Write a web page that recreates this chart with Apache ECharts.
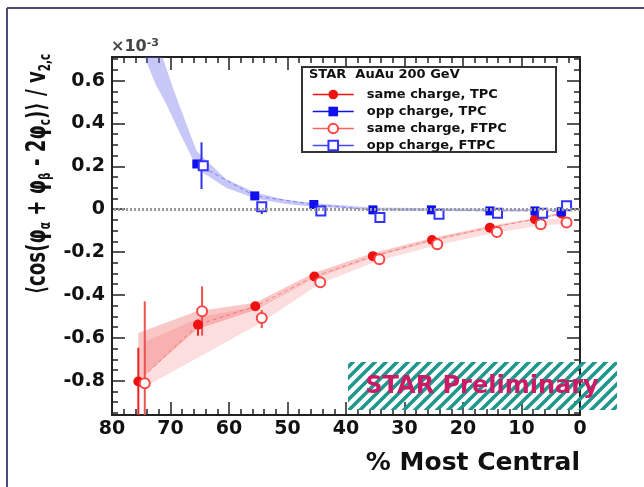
<!DOCTYPE html>
<html><head><meta charset="utf-8">
<script src="https://cdn.jsdelivr.net/npm/echarts@6/dist/echarts.min.js"></script>
<style>html,body{margin:0;padding:0;background:#fff}#c{width:644px;height:487px}</style>
</head><body><div id="c"></div>
<script>
const FONT = '"DejaVu Sans", sans-serif';
// x = % most central, y = correlator (x10^-3)
const sameTPC = [[75.5,-0.804],[65.3,-0.539],[55.5,-0.453],[45.4,-0.314],[35.4,-0.219],[25.3,-0.144],[15.4,-0.086],[7.7,-0.047],[3.2,-0.02]];
const oppTPC = [[65.5,0.211],[55.6,0.062],[45.5,0.022],[35.4,-0.003],[25.4,-0.003],[15.4,-0.008],[7.7,-0.008],[3.2,-0.012]];
const sameFTPC = [[74.4,-0.812],[64.6,-0.476],[54.4,-0.508],[44.4,-0.341],[34.3,-0.234],[24.4,-0.163],[14.2,-0.106],[6.7,-0.07],[2.3,-0.062]];
const oppFTPC = [[64.4,0.203],[54.4,0.011],[44.3,-0.008],[34.2,-0.039],[24.1,-0.023],[14.1,-0.019],[6.4,-0.019],[2.3,0.016]];
// statistical error bars [x, low, high]
const sameTPCErr = [[75.5,-1.1,-0.646],[65.3,-0.59,-0.515]];
const sameFTPCErr = [[74.4,-1.1,-0.43],[64.6,-0.59,-0.36],[54.4,-0.555,-0.47]];
const oppFTPCErr = [[64.7,0.094,0.312],[54.4,-0.023,0.03]];
// systematic bands: upper and lower edges
const sameTPCBandHi = [[75.5,-0.578],[65.5,-0.476],[55.5,-0.436],[45.5,-0.298],[35.5,-0.205],[25.5,-0.135],[15.5,-0.078],[7.7,-0.042],[3.2,-0.015]];
const sameTPCBandLo = [[75.5,-0.80],[65.5,-0.56],[55.5,-0.47],[45.5,-0.325],[35.5,-0.225],[25.5,-0.15],[15.5,-0.09],[7.7,-0.052],[3.2,-0.025]];
const sameFTPCBandHi = [[74.5,-0.62],[64.5,-0.50],[54.5,-0.45],[44.5,-0.31],[34.5,-0.215],[24.5,-0.14],[14.5,-0.085],[6.7,-0.05],[2.3,-0.04]];
const sameFTPCBandLo = [[74.5,-0.83],[64.5,-0.68],[54.5,-0.53],[44.5,-0.348],[34.5,-0.24],[24.5,-0.168],[14.5,-0.11],[6.7,-0.076],[2.3,-0.068]];
const oppBandHi = [[74.5,1.05],[71.5,0.72],[69.5,0.56],[68,0.45],[66.5,0.34],[65.5,0.27],[60.5,0.14],[55.5,0.078],[50.5,0.045],[45.5,0.028],[35.5,0.008],[25.5,0.004],[15.5,0.002],[7.7,0.001],[2.3,0.0]];
const oppBandLo = [[76,0.82],[74.6,0.72],[72.5,0.58],[70.7,0.49],[68.5,0.36],[66.5,0.25],[65.5,0.19],[60.5,0.10],[55.5,0.05],[50.5,0.025],[45.5,0.012],[35.5,-0.004],[25.5,-0.008],[15.5,-0.01],[7.7,-0.01],[2.3,-0.008]];
// axis ticks
const xRange = [0, 80];
const yRange = [-0.96, 0.71];
const yMajor = [-0.8,-0.6,-0.4,-0.2,0,0.2,0.4,0.6];
const yMinor = [];
for (let v = -95; v <= 70; v += 5) { if (v % 20 !== 0) yMinor.push(v / 100); }
const names = ['same charge, TPC','opp charge, TPC','same charge, FTPC','opp charge, FTPC'];

function bandSeries(hi, lo, color, z) {
  return { type:'custom', clip:true, silent:true, z:z, data:[hi[0]],
    renderItem: function(params, api) {
      const pts = hi.concat(lo.slice().reverse()).map(function(p){ return api.coord(p); });
      return { type:'polygon', shape:{points:pts}, style:{fill:color} };
    } };
}
function errSeries(data, color, width, z) {
  return { type:'custom', clip:true, silent:true, z:z, data:data, encode:{x:0, y:[1,2]},
    renderItem: function(params, api) {
      const a = api.coord([api.value(0), api.value(1)]);
      const b = api.coord([api.value(0), api.value(2)]);
      return { type:'line', shape:{x1:a[0], y1:a[1], x2:b[0], y2:b[1]}, style:{stroke:color, lineWidth:width} };
    } };
}

const pc = document.createElement('canvas');
pc.width = 11; pc.height = 11;
const g = pc.getContext('2d');
g.strokeStyle = '#1f978c'; g.lineWidth = 3.6;
g.beginPath();
g.moveTo(-2,13); g.lineTo(13,-2);
g.moveTo(-2,2); g.lineTo(2,-2);
g.moveTo(9,13); g.lineTo(13,9);
g.stroke();

const axisLineStyle = {color:'#222', width:2};
function xAx(pos, labels) {
  return { type:'value', position:pos, min:xRange[0], max:xRange[1], interval:10, inverse:true,
    axisLine:{show:true, onZero:false, lineStyle:axisLineStyle},
    axisTick:{show:true, inside:true, length:13, lineStyle:{color:'#222', width:1.5}},
    minorTick:{show:true, splitNumber:5, length:6, lineStyle:{color:'#222', width:1.5}},
    splitLine:{show:false}, minorSplitLine:{show:false},
    axisLabel:{show:labels, margin:5, fontFamily:FONT, fontWeight:'bold', fontSize:19, color:'#111'} };
}
function yAx(pos, major, labels) {
  return { type:'value', position:pos, min:yRange[0], max:yRange[1],
    axisLine:{show:major, onZero:false, lineStyle:axisLineStyle},
    axisTick:{show:true, inside:true, length: major ? 13 : 6, customValues: major ? yMajor : yMinor, lineStyle:{color:'#222', width:1.5}},
    splitLine:{show:false},
    axisLabel:{show:labels, customValues: yMajor, margin:7, fontFamily:FONT, fontWeight:'bold', fontSize:19, color:'#111',
      formatter: function(v){ return v === 0 ? '0' : (+v).toFixed(1); } } };
}

const chart = echarts.init(document.getElementById('c'), null, {renderer:'canvas'});
chart.setOption({
  animation:false,
  backgroundColor:'#ffffff',
  grid:{left:112, right:64, top:57, bottom:72, containLabel:false},
  xAxis:[xAx('bottom', true), xAx('top', false)],
  yAxis:[yAx('left', true, true), yAx('left', false, false), yAx('right', true, false), yAx('right', false, false)],
  legend:{
    data:[
      {name:names[0], lineStyle:{color:'#ee1111'}},
      {name:names[1], lineStyle:{color:'#1010ee'}},
      {name:names[2], lineStyle:{color:'#ff6060'}},
      {name:names[3], lineStyle:{color:'#4848f0'}}
    ],
    orient:'vertical', left:312, top:88, padding:0, itemWidth:41, itemHeight:12, itemGap:4,
    selectedMode:false,
    lineStyle:{type:'solid', opacity:1, width:1.5},
    textStyle:{fontFamily:FONT, fontWeight:'bold', fontSize:13, color:'#111', lineHeight:12, padding:[0,0,0,8]}
  },
  series:[
    bandSeries(oppBandHi, oppBandLo, 'rgba(100,100,235,0.36)', 1),
    bandSeries(sameFTPCBandHi, sameFTPCBandLo, 'rgba(240,70,70,0.18)', 1),
    bandSeries(sameTPCBandHi, sameTPCBandLo, 'rgba(240,70,70,0.30)', 1),
    errSeries(sameTPCErr, '#ee2222', 2, 2),
    errSeries(sameFTPCErr, '#f05050', 2, 2),
    errSeries(oppFTPCErr, '#3030ee', 2, 2),
    { name:names[0], type:'line', z:3, data:sameTPC, symbol:'circle', symbolSize:10,
      itemStyle:{color:'#ee1111'}, lineStyle:{color:'rgba(240,80,80,0.6)', type:[4,3], width:1} },
    { name:names[1], type:'line', z:3, data:oppTPC, symbol:'rect', symbolSize:9,
      itemStyle:{color:'#1010ee'}, lineStyle:{color:'rgba(80,80,240,0.6)', type:[4,3], width:1},
      markLine:{silent:true, symbol:'none', label:{show:false}, animation:false,
        lineStyle:{color:'#9a9a9a', type:[2,2], width:3}, data:[{yAxis:0}]} },
    { name:names[2], type:'line', z:4, data:sameFTPC, symbol:'emptyCircle', symbolSize:10,
      itemStyle:{color:'#ff4444', borderWidth:1.5}, lineStyle:{color:'#ff6060', opacity:0} },
    { name:names[3], type:'line', z:4, data:oppFTPC, symbol:'emptyRect', symbolSize:9,
      itemStyle:{color:'#3333ff', borderWidth:1.5}, lineStyle:{color:'#4848f0', opacity:0} }
  ],
  graphic:[
    {type:'line', z:0, shape:{x1:7, y1:8, x2:644, y2:8}, style:{stroke:'#4b4b78', lineWidth:2}},
    {type:'line', z:0, shape:{x1:7, y1:8, x2:7, y2:487}, style:{stroke:'#4b4b78', lineWidth:2}},
    {type:'rect', z:1, shape:{x:302, y:67, width:254, height:85}, style:{fill:'#fff', stroke:'#333', lineWidth:2}},
    {type:'text', z:5, x:309, y:75, style:{text:'STAR  AuAu 200 GeV', font:'bold 13px ' + FONT, fill:'#111', textVerticalAlign:'middle'}},
    {type:'text', z:5, x:111, y:47, style:{text:'{a|×10}{b|-3}', textVerticalAlign:'middle',
      rich:{a:{font:'bold 16px ' + FONT, fill:'#444'}, b:{font:'bold 11px ' + FONT, fill:'#444', verticalAlign:'top', padding:[0,0,8,0]}}}},
    {type:'text', z:5, x:38, y:174, rotation:Math.PI/2, scaleX:0.7, style:{
      text:'{m|⟨cos(φ}{s|α}{m| + φ}{s|β}{m| - 2φ}{s|c}{m|)⟩ / v}{s|2,c}',
      textAlign:'center', textVerticalAlign:'middle',
      rich:{m:{font:'bold 26px ' + FONT, fill:'#111', lineHeight:32, verticalAlign:'middle'},
            s:{font:'bold 15px ' + FONT, fill:'#111', lineHeight:15, verticalAlign:'bottom'}}}},
    {type:'text', z:5, x:580, y:463, style:{text:'% Most Central', font:'bold 25px ' + FONT, fill:'#111', textAlign:'right', textVerticalAlign:'middle'}},
    {type:'rect', z:50, shape:{x:348, y:362, width:269, height:48}, style:{fill:{image:pc, repeat:'repeat'}}},
    {type:'text', z:51, x:482, y:387, style:{text:'STAR Preliminary', font:'bold 24px ' + FONT, fill:'#cc1a66', textAlign:'center', textVerticalAlign:'middle'}}
  ]
});
</script>
</body></html>
